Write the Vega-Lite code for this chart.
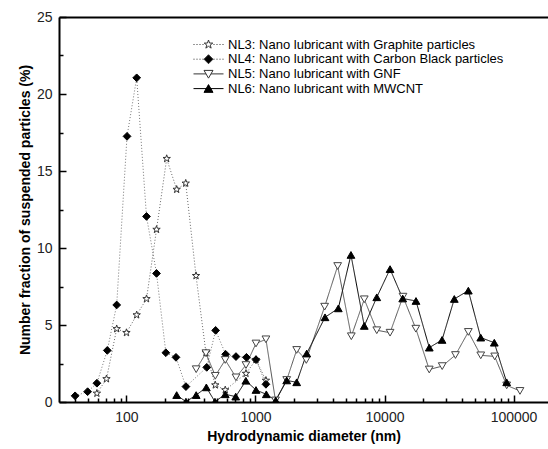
{
  "$schema": "https://vega.github.io/schema/vega-lite/v6.json",
  "width": 489,
  "height": 385,
  "autosize": {"type": "none"},
  "padding": {"left": 59, "top": 17, "right": 0, "bottom": 47},
  "background": "white",
  "config": {"view": {"stroke": null}, "font": "Liberation Sans"},
  "data": {"values": [
    {"s": "NL3: Nano lubricant with Graphite particles", "d": 59, "v": 0.56},
    {"s": "NL3: Nano lubricant with Graphite particles", "d": 70, "v": 1.5},
    {"s": "NL3: Nano lubricant with Graphite particles", "d": 84, "v": 4.75},
    {"s": "NL3: Nano lubricant with Graphite particles", "d": 100, "v": 4.5},
    {"s": "NL3: Nano lubricant with Graphite particles", "d": 120, "v": 5.65},
    {"s": "NL3: Nano lubricant with Graphite particles", "d": 143, "v": 6.7},
    {"s": "NL3: Nano lubricant with Graphite particles", "d": 171, "v": 11.2},
    {"s": "NL3: Nano lubricant with Graphite particles", "d": 205, "v": 15.8},
    {"s": "NL3: Nano lubricant with Graphite particles", "d": 245, "v": 13.8},
    {"s": "NL3: Nano lubricant with Graphite particles", "d": 288, "v": 14.2},
    {"s": "NL3: Nano lubricant with Graphite particles", "d": 346, "v": 8.2},
    {"s": "NL3: Nano lubricant with Graphite particles", "d": 413, "v": 3.2},
    {"s": "NL3: Nano lubricant with Graphite particles", "d": 488, "v": 1.1},
    {"s": "NL3: Nano lubricant with Graphite particles", "d": 583, "v": 0.78},
    {"s": "NL3: Nano lubricant with Graphite particles", "d": 844, "v": 1.85},
    {"s": "NL3: Nano lubricant with Graphite particles", "d": 1009, "v": 2.75},
    {"s": "NL3: Nano lubricant with Graphite particles", "d": 1205, "v": 1.4},
    {"s": "NL4: Nano lubricant with Carbon Black particles", "d": 40, "v": 0.4},
    {"s": "NL4: Nano lubricant with Carbon Black particles", "d": 50, "v": 0.67},
    {"s": "NL4: Nano lubricant with Carbon Black particles", "d": 59, "v": 1.22},
    {"s": "NL4: Nano lubricant with Carbon Black particles", "d": 71, "v": 3.35},
    {"s": "NL4: Nano lubricant with Carbon Black particles", "d": 84, "v": 6.3},
    {"s": "NL4: Nano lubricant with Carbon Black particles", "d": 101, "v": 17.25},
    {"s": "NL4: Nano lubricant with Carbon Black particles", "d": 120, "v": 21.05},
    {"s": "NL4: Nano lubricant with Carbon Black particles", "d": 143, "v": 12.05},
    {"s": "NL4: Nano lubricant with Carbon Black particles", "d": 171, "v": 8.35},
    {"s": "NL4: Nano lubricant with Carbon Black particles", "d": 202, "v": 3.2},
    {"s": "NL4: Nano lubricant with Carbon Black particles", "d": 242, "v": 2.9},
    {"s": "NL4: Nano lubricant with Carbon Black particles", "d": 289, "v": 1.0},
    {"s": "NL4: Nano lubricant with Carbon Black particles", "d": 419, "v": 2.25},
    {"s": "NL4: Nano lubricant with Carbon Black particles", "d": 491, "v": 4.65},
    {"s": "NL4: Nano lubricant with Carbon Black particles", "d": 587, "v": 3.1},
    {"s": "NL4: Nano lubricant with Carbon Black particles", "d": 706, "v": 2.95},
    {"s": "NL4: Nano lubricant with Carbon Black particles", "d": 851, "v": 2.9},
    {"s": "NL4: Nano lubricant with Carbon Black particles", "d": 1009, "v": 2.75},
    {"s": "NL4: Nano lubricant with Carbon Black particles", "d": 1205, "v": 1.15},
    {"s": "NL5: Nano lubricant with GNF", "d": 347, "v": 2.13},
    {"s": "NL5: Nano lubricant with GNF", "d": 413, "v": 3.17},
    {"s": "NL5: Nano lubricant with GNF", "d": 488, "v": 1.7},
    {"s": "NL5: Nano lubricant with GNF", "d": 583, "v": 2.73},
    {"s": "NL5: Nano lubricant with GNF", "d": 706, "v": 1.6},
    {"s": "NL5: Nano lubricant with GNF", "d": 844, "v": 2.4},
    {"s": "NL5: Nano lubricant with GNF", "d": 1009, "v": 3.8},
    {"s": "NL5: Nano lubricant with GNF", "d": 1205, "v": 4.07},
    {"s": "NL5: Nano lubricant with GNF", "d": 1429, "v": 0.1},
    {"s": "NL5: Nano lubricant with GNF", "d": 1746, "v": 1.43},
    {"s": "NL5: Nano lubricant with GNF", "d": 2086, "v": 3.38},
    {"s": "NL5: Nano lubricant with GNF", "d": 2476, "v": 2.73},
    {"s": "NL5: Nano lubricant with GNF", "d": 3436, "v": 6.19},
    {"s": "NL5: Nano lubricant with GNF", "d": 4335, "v": 8.83},
    {"s": "NL5: Nano lubricant with GNF", "d": 5530, "v": 4.27},
    {"s": "NL5: Nano lubricant with GNF", "d": 6970, "v": 6.67},
    {"s": "NL5: Nano lubricant with GNF", "d": 8710, "v": 4.66},
    {"s": "NL5: Nano lubricant with GNF", "d": 11040, "v": 4.5},
    {"s": "NL5: Nano lubricant with GNF", "d": 13910, "v": 6.84},
    {"s": "NL5: Nano lubricant with GNF", "d": 17490, "v": 4.76},
    {"s": "NL5: Nano lubricant with GNF", "d": 22220, "v": 2.11},
    {"s": "NL5: Nano lubricant with GNF", "d": 28000, "v": 2.33},
    {"s": "NL5: Nano lubricant with GNF", "d": 35480, "v": 3.05},
    {"s": "NL5: Nano lubricant with GNF", "d": 44640, "v": 4.55},
    {"s": "NL5: Nano lubricant with GNF", "d": 55720, "v": 3.03},
    {"s": "NL5: Nano lubricant with GNF", "d": 71470, "v": 2.96},
    {"s": "NL5: Nano lubricant with GNF", "d": 88500, "v": 1.08},
    {"s": "NL5: Nano lubricant with GNF", "d": 112200, "v": 0.72},
    {"s": "NL6: Nano lubricant with MWCNT", "d": 245, "v": 0.45},
    {"s": "NL6: Nano lubricant with MWCNT", "d": 289, "v": 0.02},
    {"s": "NL6: Nano lubricant with MWCNT", "d": 347, "v": 0.45},
    {"s": "NL6: Nano lubricant with MWCNT", "d": 416, "v": 0.95},
    {"s": "NL6: Nano lubricant with MWCNT", "d": 485, "v": 0.02},
    {"s": "NL6: Nano lubricant with MWCNT", "d": 583, "v": 0.5},
    {"s": "NL6: Nano lubricant with MWCNT", "d": 703, "v": 0.35},
    {"s": "NL6: Nano lubricant with MWCNT", "d": 842, "v": 1.38},
    {"s": "NL6: Nano lubricant with MWCNT", "d": 1009, "v": 0.78},
    {"s": "NL6: Nano lubricant with MWCNT", "d": 1213, "v": 0.5},
    {"s": "NL6: Nano lubricant with MWCNT", "d": 1436, "v": 0.1},
    {"s": "NL6: Nano lubricant with MWCNT", "d": 1746, "v": 1.4},
    {"s": "NL6: Nano lubricant with MWCNT", "d": 2086, "v": 1.28},
    {"s": "NL6: Nano lubricant with MWCNT", "d": 2495, "v": 3.15},
    {"s": "NL6: Nano lubricant with MWCNT", "d": 3459, "v": 5.5},
    {"s": "NL6: Nano lubricant with MWCNT", "d": 4385, "v": 6.08},
    {"s": "NL6: Nano lubricant with MWCNT", "d": 5495, "v": 9.55},
    {"s": "NL6: Nano lubricant with MWCNT", "d": 6970, "v": 4.94},
    {"s": "NL6: Nano lubricant with MWCNT", "d": 8710, "v": 6.8},
    {"s": "NL6: Nano lubricant with MWCNT", "d": 11040, "v": 8.63},
    {"s": "NL6: Nano lubricant with MWCNT", "d": 13840, "v": 6.72},
    {"s": "NL6: Nano lubricant with MWCNT", "d": 17540, "v": 6.56},
    {"s": "NL6: Nano lubricant with MWCNT", "d": 22240, "v": 3.53},
    {"s": "NL6: Nano lubricant with MWCNT", "d": 27930, "v": 4.03},
    {"s": "NL6: Nano lubricant with MWCNT", "d": 34750, "v": 6.69},
    {"s": "NL6: Nano lubricant with MWCNT", "d": 44640, "v": 7.23},
    {"s": "NL6: Nano lubricant with MWCNT", "d": 55720, "v": 4.18},
    {"s": "NL6: Nano lubricant with MWCNT", "d": 70960, "v": 3.85},
    {"s": "NL6: Nano lubricant with MWCNT", "d": 88500, "v": 1.28}
  ]},
  "resolve": {
    "axis": {"x": "independent", "y": "independent"},
    "scale": {"shape": "independent", "fill": "independent", "stroke": "independent", "strokeWidth": "independent"},
    "legend": {"shape": "independent", "fill": "independent", "stroke": "independent", "strokeWidth": "independent"}
  },
  "layer": [
    {
      "mark": {"type": "line", "clip": true},
      "encoding": {
        "x": {"field": "d", "type": "quantitative",
          "scale": {"type": "log", "domain": [30, 185000], "nice": false},
          "axis": {
            "values": [100, 1000, 10000, 100000],
            "labelExpr": "'' + datum.value",
            "tickSize": -7,
            "tickColor": "black", "tickWidth": 1.5,
            "domainColor": "black", "domainWidth": 2,
            "grid": false, "labelOverlap": false, "labelFlush": false,
            "labelFont": "Liberation Sans", "labelFontSize": 14, "labelColor": "#222", "labelPadding": 15,
            "title": "Hydrodynamic diameter (nm)", "titleFont": "Liberation Sans", "titleFontSize": 14, "titleFontWeight": "bold", "titleColor": "black", "titlePadding": 5
          }},
        "y": {"field": "v", "type": "quantitative",
          "scale": {"domain": [0, 25], "nice": false},
          "axis": {
            "values": [0, 5, 10, 15, 20, 25],
            "tickSize": -7,
            "tickColor": "black", "tickWidth": 1.5,
            "domainColor": "black", "domainWidth": 2,
            "grid": false, "labelOverlap": false, "labelFlush": false,
            "labelFont": "Liberation Sans", "labelFontSize": 14, "labelColor": "#222", "labelPadding": 14,
            "title": "Number fraction of suspended particles (%)", "titleFont": "Liberation Sans", "titleFontSize": 14, "titleFontWeight": "bold", "titleColor": "black", "titlePadding": 4
          }},
        "color": {"field": "s", "type": "nominal", "legend": null,
          "scale": {"range": ["#666666", "#777777", "#555555", "#000000"]}},
        "strokeDash": {"field": "s", "type": "nominal", "legend": null,
          "scale": {"range": [[1, 2], [1, 2], [1, 0], [1, 0]]}},
        "strokeWidth": {"field": "s", "type": "nominal", "legend": null,
          "scale": {"range": [1, 1, 1, 2]}}
      }
    },
    {
      "mark": {"type": "point", "size": 60, "strokeWidth": 1, "opacity": 1, "clip": true},
      "encoding": {
        "x": {"field": "d", "type": "quantitative",
          "axis": {"orient": "top", "labels": false, "ticks": false, "title": null, "grid": false, "domainColor": "black", "domainWidth": 2}},
        "y": {"field": "v", "type": "quantitative", "axis": null},
        "shape": {"field": "s", "type": "nominal", "legend": null,
          "scale": {"range": ["M0,-1L0.235,-0.324L0.951,-0.309L0.380,0.124L0.588,0.809L0,0.4L-0.588,0.809L-0.380,0.124L-0.951,-0.309L-0.235,-0.324Z", "diamond", "triangle-down", "triangle-up"]}},
        "fill": {"field": "s", "type": "nominal", "legend": null,
          "scale": {"range": ["white", "black", "white", "black"]}},
        "stroke": {"field": "s", "type": "nominal", "legend": null,
          "scale": {"range": ["#333333", "#000000", "#444444", "#000000"]}}
      }
    },
    {
      "transform": [{"filter": "datum.v < 0"}],
      "mark": {"type": "point", "size": 100, "opacity": 1},
      "encoding": {
        "x": {"field": "d", "type": "quantitative",
          "axis": {"orient": "bottom", "values": [40,50,60,70,80,90,200,300,400,500,600,700,800,900,2000,3000,4000,5000,6000,7000,8000,9000,20000,30000,40000,50000,60000,70000,80000,90000],
            "labels": false, "domain": false, "grid": false, "title": null, "tickSize": -4, "tickColor": "black", "tickWidth": 1.5}},
        "y": {"field": "v", "type": "quantitative",
          "axis": {"orient": "left", "values": [2.5, 7.5, 12.5, 17.5, 22.5],
            "labels": false, "domain": false, "grid": false, "title": null, "tickSize": -4, "tickColor": "black", "tickWidth": 1.5}},
        "shape": {"field": "s", "type": "nominal",
          "scale": {
            "domain": ["NL3: Nano lubricant with Graphite particles", "NL4: Nano lubricant with Carbon Black particles", "NL5: Nano lubricant with GNF", "NL6: Nano lubricant with MWCNT"],
            "range": [
              "M-3,0h0.2M-2.4,0h0.2M-1.8,0h0.2M-1.2,0h0.2M1.0,0h0.2M1.6,0h0.2M2.2,0h0.2M2.8,0h0.2M0,-0.9L0.212,-0.292L0.856,-0.278L0.342,0.112L0.529,0.728L0,0.36L-0.529,0.728L-0.342,0.112L-0.856,-0.278L-0.212,-0.292Z",
              "M-3,0h0.2M-2.4,0h0.2M-1.8,0h0.2M-1.2,0h0.2M1.0,0h0.2M1.6,0h0.2M2.2,0h0.2M2.8,0h0.2M0,-0.9L0.9,0L0,0.9L-0.9,0Z",
              "M-3,0H-0.5M0.5,0H3M-0.9,-0.7L0.9,-0.7L0,0.85Z",
              "M-3,0H3M-0.9,0.75L0.9,0.75L0,-0.8Z"
            ]},
          "legend": {
            "orient": "none", "legendX": 143, "legendY": 21, "title": null, "padding": 0,
            "symbolSize": 100, "rowPadding": 0.7, "labelOffset": 13, "symbolOpacity": 1,
            "labelFont": "Liberation Sans", "labelFontSize": 13, "labelColor": "black", "labelLimit": 400
          }},
        "fill": {"field": "s", "type": "nominal",
          "scale": {
            "domain": ["NL3: Nano lubricant with Graphite particles", "NL4: Nano lubricant with Carbon Black particles", "NL5: Nano lubricant with GNF", "NL6: Nano lubricant with MWCNT"],
            "range": ["white", "black", "white", "black"]}},
        "stroke": {"field": "s", "type": "nominal",
          "scale": {
            "domain": ["NL3: Nano lubricant with Graphite particles", "NL4: Nano lubricant with Carbon Black particles", "NL5: Nano lubricant with GNF", "NL6: Nano lubricant with MWCNT"],
            "range": ["#333333", "#333333", "#333333", "#000000"]}},
        "strokeWidth": {"field": "s", "type": "nominal",
          "scale": {
            "domain": ["NL3: Nano lubricant with Graphite particles", "NL4: Nano lubricant with Carbon Black particles", "NL5: Nano lubricant with GNF", "NL6: Nano lubricant with MWCNT"],
            "range": [1, 1, 1, 2]}}
      }
    }
  ]
}
